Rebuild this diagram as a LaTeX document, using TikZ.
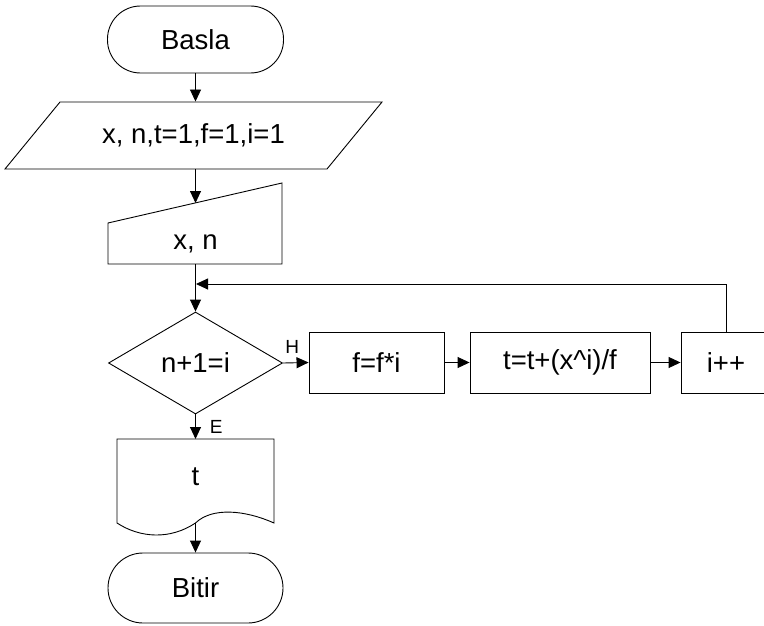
\documentclass[tikz,border=0pt]{standalone}
\usepackage{fontspec}
\setmainfont{Liberation Sans}
\usetikzlibrary{shapes.geometric,arrows.meta}
\begin{document}
\begin{tikzpicture}[x=1pt,y=-1pt,
  line width=0.9pt,
  txt/.style={font=\fontsize{27.5}{32}\selectfont, inner sep=0pt},
  lbl/.style={font=\fontsize{19}{22}\selectfont, inner sep=0pt},
  term/.style={draw, rectangle, rounded corners=33pt, txt, minimum width=176pt, minimum height=67pt},
  proc/.style={draw, rectangle, txt, minimum height=61pt},
  decis/.style={draw, diamond, txt, minimum width=174pt, minimum height=102pt},
  flow/.style={-{Triangle[length=12pt,width=11pt]}},
]
\useasboundingbox (0,0) rectangle (764,626);
\clip (0,0) rectangle (764,626);

% start
\node[term] (start) at (195.5,39.5) {Basla};

% input parallelogram
\draw (60,102) -- (382,102) -- (327,169) -- (5,169) -- cycle;
\node[txt, minimum width=267pt, minimum height=67pt] (init) at (193.5,135.5) {x, n,t=1,f=1,i=1};

% manual input
\draw (108,264) -- (108,223) -- (282,183) -- (282,264) -- cycle;
\node[txt, minimum width=174pt, minimum height=41pt] (inp) at (195.5,243.5) {x, n};
\coordinate (inptop) at (195.5,203);

% decision
\node[decis] (cond) at (195.5,363) {n+1=i};

% process boxes
\node[proc, minimum width=135pt] (b1) at (376.5,362.5) {f=f*i};
\node[proc, minimum width=180pt] (b2) at (560,362.5) {t=t+(x\textasciicircum i)/f};
\node[proc, minimum width=90pt] (b3) at (726,362.5) {i++};

% document
\draw (117,523) -- (117,439) -- (274,439) -- (274,523)
  .. controls (245,510) and (212,507) .. (195.5,523)
  .. controls (170,540) and (140,538) .. (117,523) -- cycle;
\node[txt, minimum width=157pt] (out) at (195.5,477) {t};
\coordinate (outtop) at (195.5,439);
\coordinate (outbot) at (195.5,523);

% end
\node[term, minimum width=175pt, minimum height=70pt, rounded corners=35pt] (end) at (195.5,588) {Bitir};

% loop join
\coordinate (j) at (196,284);

% connectors
\draw[flow] (start.south) -- (start.south |- init.north);
\draw[flow] (start.south |- init.south) -- (inptop);
\draw[flow] (inp.south) -- (cond.north);
\draw[flow] (b3.north) |- (j);
\draw[flow] (cond.east) -- (b1.west)
  node[lbl, at start, anchor=south west, xshift=2pt, yshift=9pt] {H};
\draw[flow] (b1.east) -- (b2.west);
\draw[flow] (b2.east) -- (b3.west);
\draw[flow] (cond.south) -- (outtop)
  node[lbl, at start, anchor=north west, xshift=14pt, yshift=-6pt] {E};
\draw[flow] (outbot) -- (end.north);
\end{tikzpicture}
\end{document}
